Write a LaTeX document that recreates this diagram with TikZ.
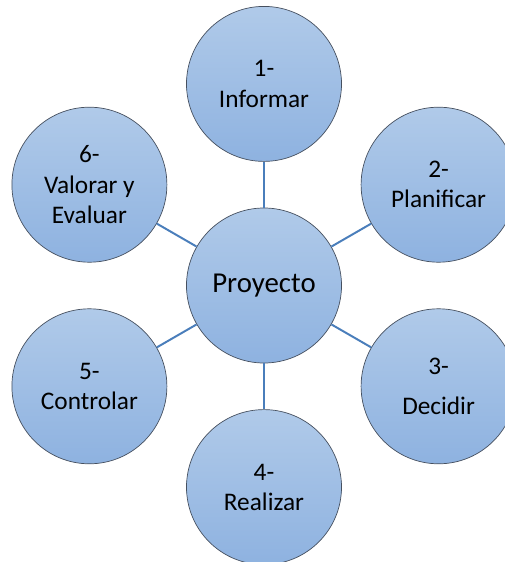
\documentclass[tikz,border=0pt]{standalone}
\usepackage{fontspec}
\setmainfont{Carlito}
\definecolor{arriba}{RGB}{176,202,233}
\definecolor{abajo}{RGB}{142,178,224}
\definecolor{borde}{RGB}{70,80,95}
\definecolor{linea}{RGB}{74,126,187}

\begin{document}
\begin{tikzpicture}[fase/.style={circle,draw=borde,line width=0.5pt,top color=arriba,bottom color=abajo,minimum size=3.875cm,inner sep=0pt,align=center,font=\fontsize{18}{21.5}\selectfont},
centro/.style={fase,font=\fontsize{20.5}{24}\selectfont},
enlace/.style={draw=linea,line width=1.4pt}]
\useasboundingbox (-6.6,-6.9125) rectangle (6.025,7.1375);
\node[centro] at (0,0) (pr) {Proyecto};
\node[fase] at (90:5.04) (f1) {1-\\Informar};
\node[fase] at (30:5.04) (f2) {2-\\Planificar};
\node[fase] at (-30:5.04) (f3) {3-\\[7pt]Decidir};
\node[fase] at (-90:5.04) (f4) {4-\\Realizar};
\node[fase] at (-150:5.04) (f5) {5-\\Controlar};
\node[fase] at (150:5.04) (f6) {6-\\Valorar y\\Evaluar};

\draw[enlace] (pr) -- (f1);
\draw[enlace] (pr) -- (f2);
\draw[enlace] (pr) -- (f3);
\draw[enlace] (pr) -- (f4);
\draw[enlace] (pr) -- (f5);
\draw[enlace] (pr) -- (f6);
\end{tikzpicture}
\end{document}
